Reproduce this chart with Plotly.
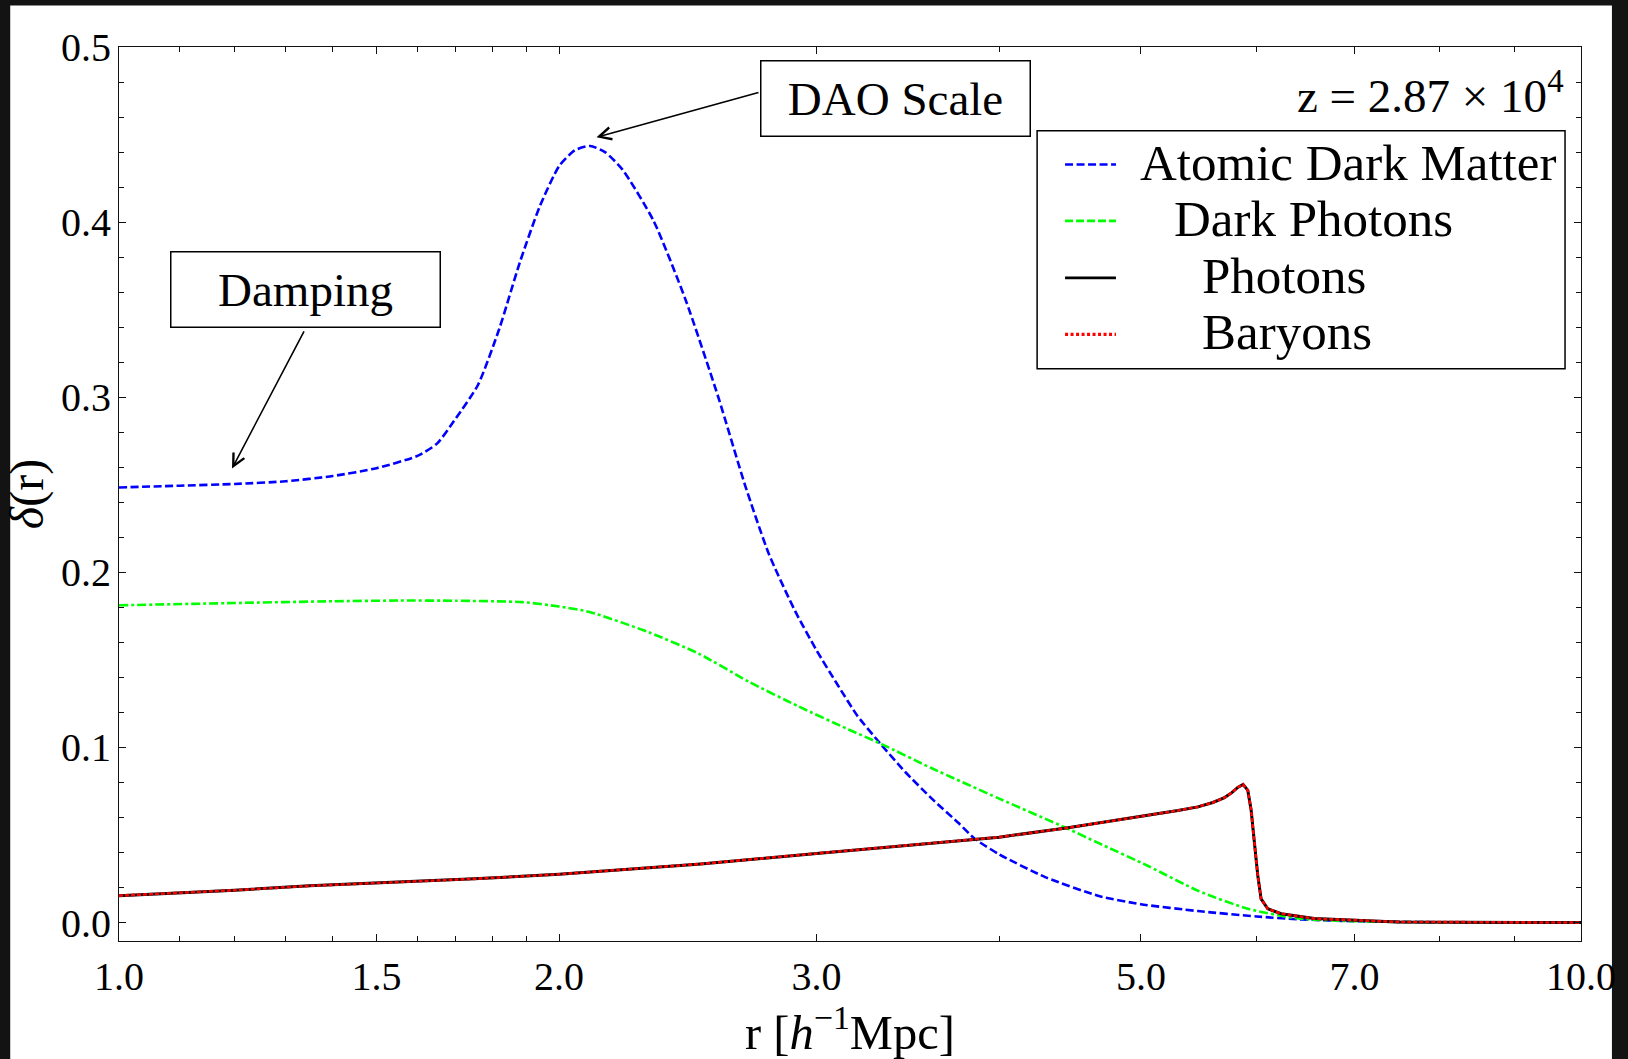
import plotly.graph_objects as go

# ---- density contrast profiles delta(r), r in h^-1 Mpc ----
r_adm = [1.00, 1.10, 1.20, 1.30, 1.40, 1.50, 1.60, 1.65, 1.70, 1.76, 1.82, 1.88,
         1.94, 2.00, 2.05, 2.10, 2.15, 2.21, 2.32, 2.44, 2.57, 2.68, 2.783, 2.90,
         3.00, 3.10, 3.20, 3.317, 3.45, 3.60, 3.75, 3.85, 4.00, 4.30, 4.68, 5.00,
         5.47, 6.00, 6.41, 7.00, 8.00, 10.0]
d_adm = [0.2485, 0.2495, 0.2505, 0.2520, 0.2550, 0.2595, 0.2665, 0.2735, 0.2880,
         0.3070, 0.3390, 0.3770, 0.4090, 0.4320, 0.4410, 0.4435, 0.4400, 0.4300,
         0.4010, 0.3560, 0.3000, 0.2500, 0.2105, 0.1780, 0.1555, 0.1360, 0.1180,
         0.1022, 0.0860, 0.0705, 0.0570, 0.0478, 0.0390, 0.0260, 0.0152, 0.0105,
         0.0066, 0.0035, 0.0019, 0.0008, 0.0002, 0.0000]

r_dph = [1.00, 1.20, 1.40, 1.556, 1.70, 1.888, 2.00, 2.098, 2.305, 2.493, 2.697,
         2.917, 3.155, 3.326, 3.60, 4.00, 4.446, 4.675, 5.058, 5.47, 5.917, 6.41,
         7.00, 8.00, 10.0]
d_dph = [0.1812, 0.1825, 0.1835, 0.1839, 0.1838, 0.1830, 0.1805, 0.1774, 0.1657,
         0.1535, 0.1375, 0.1234, 0.1103, 0.1018, 0.0880, 0.0708, 0.0540, 0.0455,
         0.0323, 0.0182, 0.0079, 0.0023, 0.0008, 0.0002, 0.0000]

# photons and baryons are tightly coupled and share one profile
r_pb = [1.00, 1.20, 1.35, 1.50, 1.75, 2.00, 2.50, 3.00, 3.50, 4.00, 4.446, 4.675,
        5.058, 5.30, 5.47, 5.60, 5.704, 5.77, 5.824, 5.873, 5.917, 5.948, 5.979,
        6.011, 6.042, 6.106, 6.236, 6.57, 7.49, 10.0]
d_photons = [0.0154, 0.0185, 0.0210, 0.0225, 0.0250, 0.0276, 0.0335, 0.0395,
             0.0445, 0.0488, 0.0540, 0.0568, 0.0614, 0.0640, 0.0661, 0.0686,
             0.0714, 0.0742, 0.0772, 0.0789, 0.0755, 0.0643, 0.0455, 0.0267,
             0.0135, 0.0079, 0.0051, 0.0023, 0.0004, 0.0000]
d_baryons = list(d_photons)

x_ticks = [1.0, 1.5, 2.0, 3.0, 5.0, 7.0, 10.0]
x_ticktext = ["1.0", "1.5", "2.0", "3.0", "5.0", "7.0", "10.0"]
x_minor = [1.1, 1.2, 1.3, 1.4, 1.6, 1.7, 1.8, 1.9, 4.0, 6.0, 8.0, 9.0]
y_ticks = [0.0, 0.1, 0.2, 0.3, 0.4, 0.5]
y_ticktext = ["0.0", "0.1", "0.2", "0.3", "0.4", "0.5"]

series_names = ["Atomic Dark Matter", "Dark Photons", "Photons", "Baryons"]

SERIF = "Liberation Serif, Times New Roman, serif"
BLUE, GREEN, BLACK, RED = "#0000ff", "#00ff00", "#000000", "#ff0000"
DASH_ADM = "8px,3.5px"
DASH_DPH = "9px,3px,3px,3px"
DASH_BAR = "4px,2px"

fig = go.Figure()
fig.add_trace(go.Scatter(x=r_adm, y=d_adm, mode="lines", name=series_names[0],
                         line=dict(color=BLUE, width=2.6, dash=DASH_ADM,
                                   shape="spline", smoothing=0.6)))
fig.add_trace(go.Scatter(x=r_dph, y=d_dph, mode="lines", name=series_names[1],
                         line=dict(color=GREEN, width=2.6, dash=DASH_DPH,
                                   shape="spline", smoothing=0.6)))
fig.add_trace(go.Scatter(x=r_pb, y=d_photons, mode="lines", name=series_names[2],
                         line=dict(color=BLACK, width=3)))
fig.add_trace(go.Scatter(x=r_pb, y=d_baryons, mode="lines", name=series_names[3],
                         line=dict(color=RED, width=2.6, dash=DASH_BAR)))

# plot area geometry in pixels (used for paper-space placement)
W, H = 1628, 1059
ML, MR, MT, MB = 119, 44, 47, 107
PW, PH = W - ML - MR, H - MT - MB


def px(x):
    return (x - ML) / PW


def py(y):
    return 1 - (y - MT) / PH


shapes = [
    # white page inside the dark frame
    dict(type="rect", xref="paper", yref="paper", x0=px(10), x1=px(1615),
         y0=py(1200), y1=py(5), fillcolor="white", line=dict(width=0),
         layer="below"),
    # legend frame
    dict(type="rect", xref="paper", yref="paper", x0=px(1039), x1=px(1568),
         y0=py(372.7), y1=py(131.7), fillcolor="white",
         line=dict(color="black", width=1.5), layer="above"),
]

legend_rows = [166, 223, 280.7, 338]
legend_text_y = [164, 221, 279, 336]
legend_text_x = [1140, 1174, 1202, 1202]
legend_styles = [(BLUE, DASH_ADM, 2.6), (GREEN, "8px,3px", 2.6),
                 (BLACK, "solid", 2.6), (RED, "3px,2.5px", 3.2)]
for yy, (col, dsh, wd) in zip(legend_rows, legend_styles):
    shapes.append(dict(type="line", xref="paper", yref="paper",
                       x0=px(1067), x1=px(1118), y0=py(yy), y1=py(yy),
                       line=dict(color=col, width=wd, dash=dsh), layer="above"))

annotations = []
for name, tx, ty in zip(series_names, legend_text_x, legend_text_y):
    annotations.append(dict(text=name, xref="paper", yref="paper", x=px(tx), y=py(ty),
                            xanchor="left", yanchor="middle", showarrow=False,
                            font=dict(family=SERIF, size=51, color="black")))

# framed labels
for label, cx, cy in [("DAO Scale", 897, 99.5), ("Damping", 305.5, 292)]:
    annotations.append(dict(text=label, xref="paper", yref="paper", x=px(cx), y=py(cy),
                            xanchor="center", yanchor="middle", showarrow=False,
                            width=268, height=74, borderpad=0, borderwidth=1.5,
                            bordercolor="black", bgcolor="white", align="center",
                            valign="middle",
                            font=dict(family=SERIF, size=47, color="black")))

# arrows pointing at the DAO peak and the damped plateau (x in log10 units)
for tip_x, tip_y, ax, ay in [(0.3266, 0.4484, 163.5, -45.3),
                             (0.0773, 0.2593, 72.8, -138.6)]:
    annotations.append(dict(text="", xref="x", yref="y", x=tip_x, y=tip_y,
                            ax=ax, ay=ay, showarrow=True, arrowhead=5,
                            arrowsize=1.5, arrowwidth=1.6, arrowcolor="black",
                            standoff=0, startstandoff=0))

annotations.append(dict(text="z = 2.87 × 10<sup>4</sup>", xref="paper", yref="paper",
                        x=px(1569), y=py(93), xanchor="right", yanchor="middle",
                        showarrow=False, font=dict(family=SERIF, size=47, color="black")))

axis_common = dict(showline=True, mirror="ticks", linecolor="#111111", linewidth=1.2,
                   ticks="inside", ticklen=7, tickwidth=1, tickcolor="#111111",
                   showgrid=False, zeroline=False,
                   tickfont=dict(family=SERIF, size=40, color="black"))

fig.update_layout(
    width=W, height=H,
    margin=dict(l=ML, r=MR, t=MT, b=MB, pad=0),
    paper_bgcolor="#131313", plot_bgcolor="white",
    showlegend=False,
    shapes=shapes, annotations=annotations,
    xaxis=dict(type="log", range=[0, 1], tickmode="array", tickvals=x_ticks,
               ticktext=x_ticktext, ticklabelstandoff=0,
               minor=dict(tickmode="array", tickvals=x_minor, ticks="inside",
                          ticklen=4.5, tickwidth=1, tickcolor="#111111"),
               title=dict(text="r [<i>h</i><sup>−1</sup>Mpc]", standoff=14,
                          font=dict(family=SERIF, size=48.5, color="black")),
               **axis_common),
    yaxis=dict(range=[-0.0105, 0.5], tickmode="array", tickvals=y_ticks,
               ticktext=y_ticktext, ticklabelstandoff=-1,
               minor=dict(dtick=0.02, ticks="inside", ticklen=4.5, tickwidth=1,
                          tickcolor="#111111"),
               title=dict(text="<i>δ</i>(r)", standoff=6,
                          font=dict(family=SERIF, size=48, color="black")),
               **axis_common),
)

fig.write_html("out.html")
